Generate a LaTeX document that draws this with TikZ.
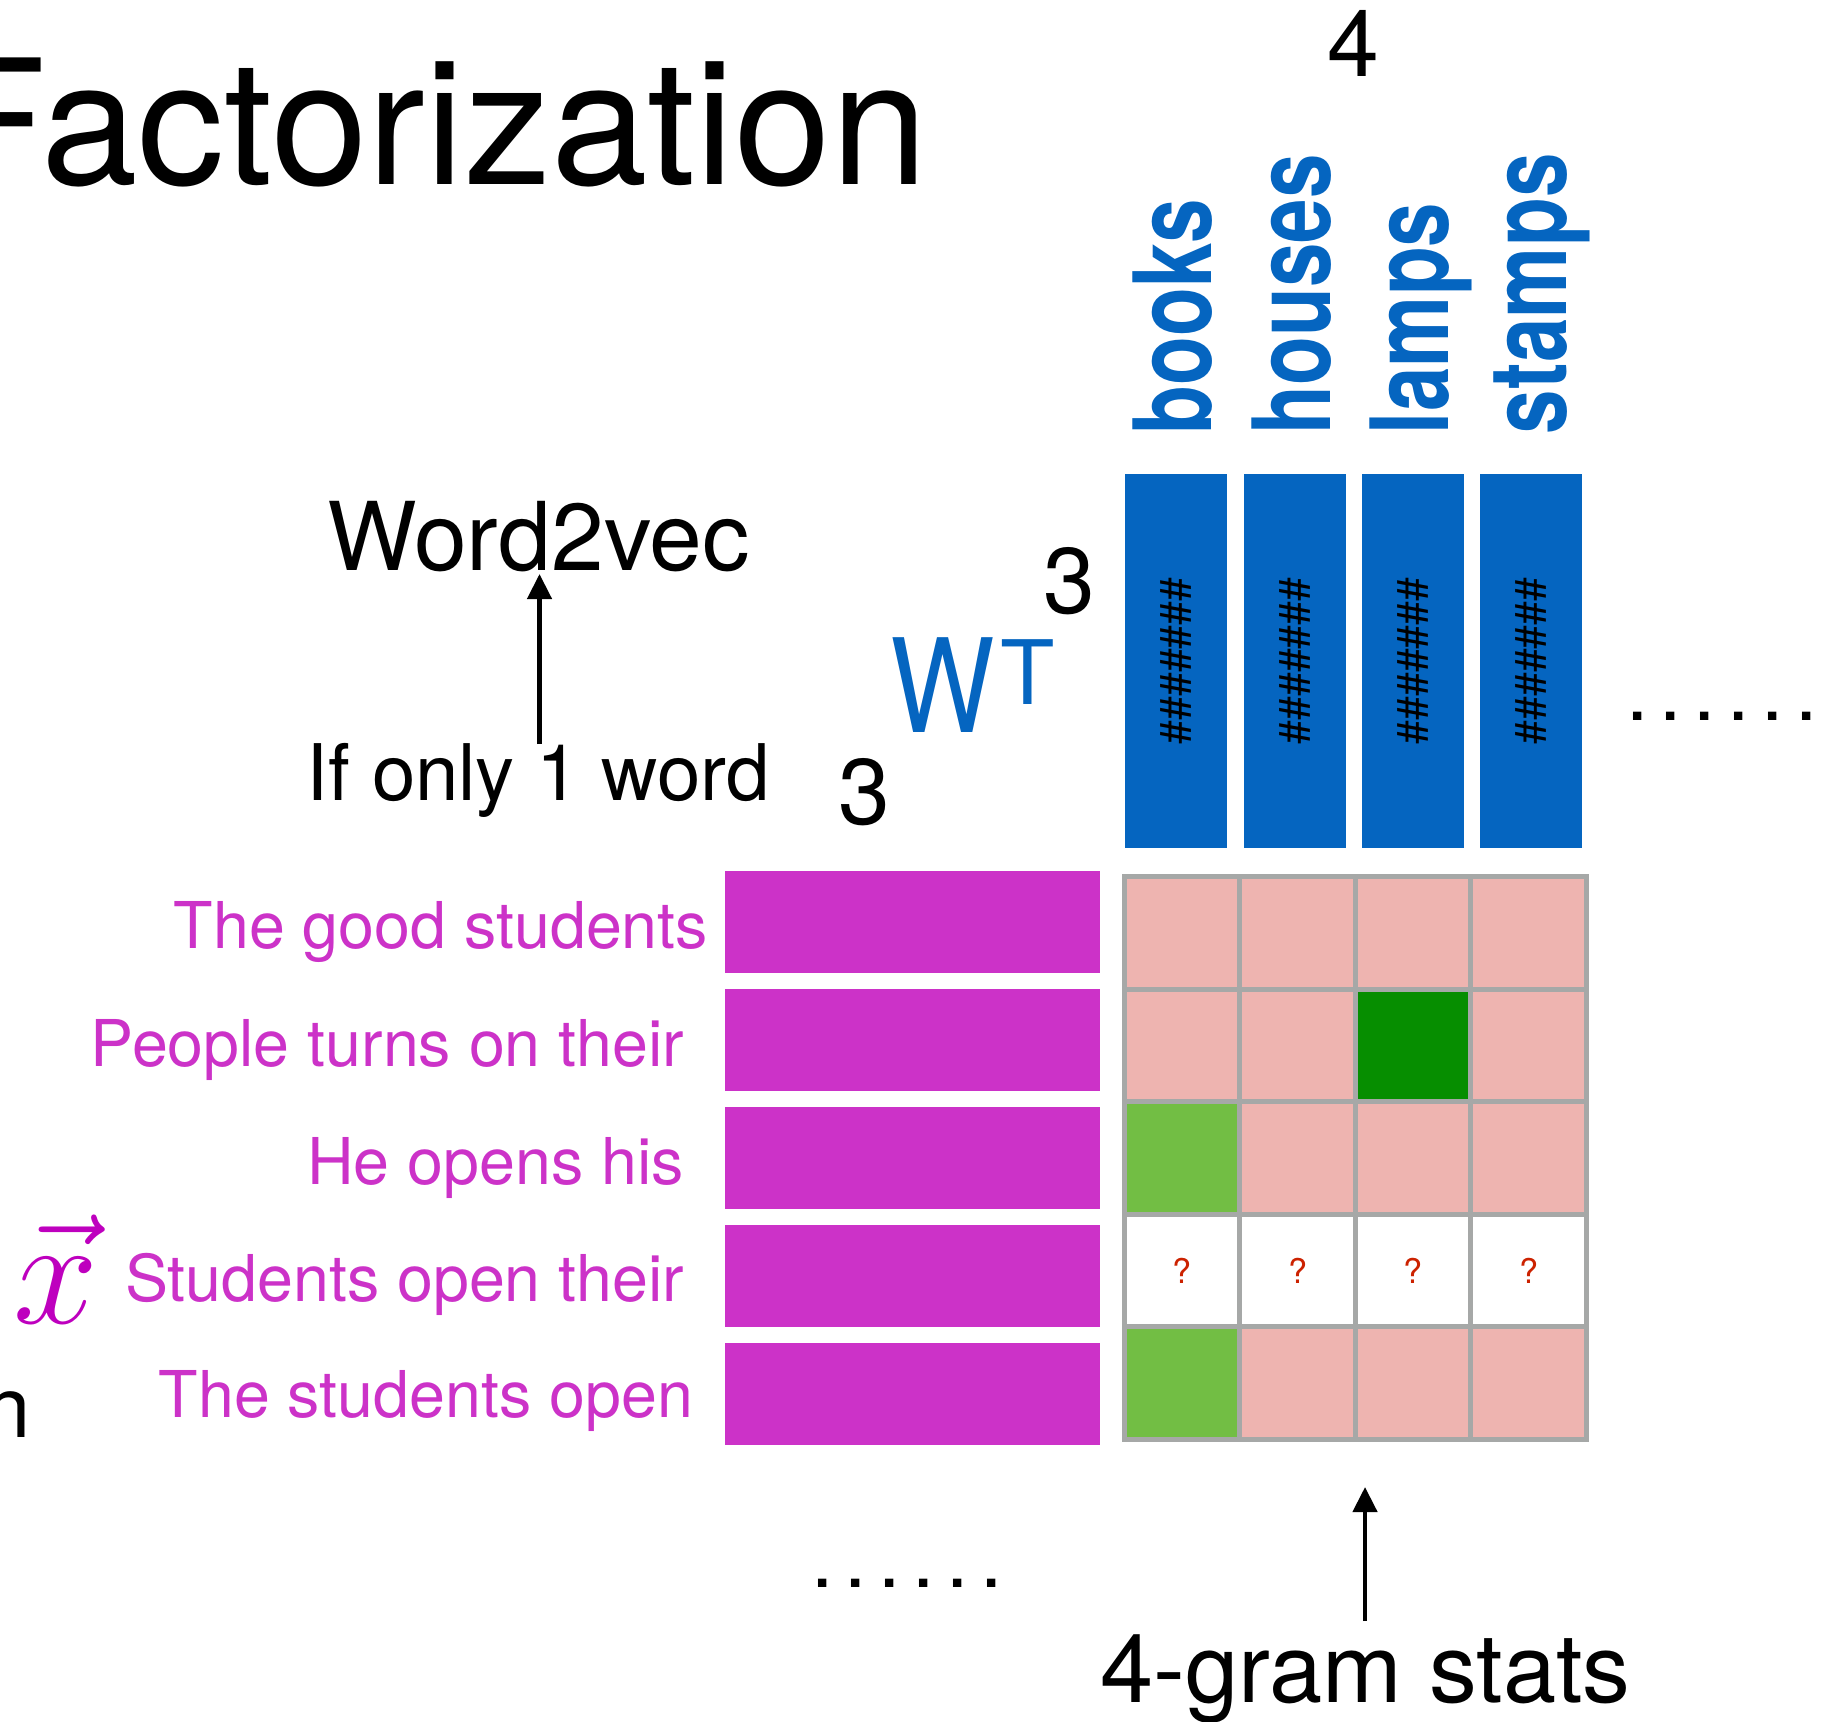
\documentclass[tikz,border=0pt]{standalone}
\usepackage{graphicx}
\usepackage{fontspec}
\setmainfont{TeX Gyre Heros}
\usetikzlibrary{arrows.meta}

\definecolor{cBlue}{RGB}{5,101,192}
\definecolor{cMag}{RGB}{204,50,200}
\definecolor{cVec}{RGB}{190,0,190}
\definecolor{cPink}{RGB}{238,180,176}
\definecolor{cDGreen}{RGB}{6,142,0}
\definecolor{cLGreen}{RGB}{114,190,68}
\definecolor{cGrid}{RGB}{166,168,167}
\definecolor{cRed}{RGB}{204,34,0}

\newcommand{\setfs}[1]{\fontsize{#1}{#1}\selectfont}
\newcommand{\dotrow}{.\kern3.3pt.\kern3.3pt.\kern3.3pt.\kern3.3pt.\kern3.3pt.}
\newcommand{\hashes}{\#\#\#\#\#\#\#}

\begin{document}
\begin{tikzpicture}[x=0.01cm, y=-0.01cm,
  txt/.style={inner sep=0pt, outer sep=0pt},
  bluebar/.style={rotate=90, fill=cBlue, minimum width=3.74cm, minimum height=1.02cm,
    inner sep=0pt, outer sep=0pt, font=\setfs{12.2}},
  magbar/.style={fill=cMag, minimum width=3.75cm, minimum height=1.02cm,
    inner sep=0pt, outer sep=0pt},
  cell/.style={draw=cGrid, line width=0.05cm, minimum width=1.155cm,
    minimum height=1.126cm, inner sep=0pt, outer sep=0pt},
  sent/.style={txt, anchor=base east, text=cMag, font=\setfs{18.35}},
  vocab/.style={txt, rotate=90, anchor=base west, text=cBlue, font=\setfs{30.7}\bfseries},
  dimlbl/.style={txt, anchor=base, font=\setfs{26.5}},
  arr/.style={line width=0.045cm, -{Triangle[length=0.25cm, width=0.24cm]}},
  qmark/.style={txt, text=cRed, font=\setfs{9.7}},
  dotlbl/.style={txt, anchor=base, font=\setfs{22.8}}
]
\useasboundingbox (0,0) rectangle (1831,1721);

% title
\node[txt, anchor=base west, font=\setfs{49.4}] (title) at (-59,184.5) {Factorization};

% vocabulary size and words
\node[dimlbl] (dimfour) at (1353,76) {4};
\node[vocab] (wbooks)  at (1211,434) {\scalebox{0.74}[1]{books}};
\node[vocab] (whouses) at (1330,434) {\scalebox{0.74}[1]{houses}};
\node[vocab] (wlamps)  at (1448,434) {\scalebox{0.74}[1]{lamps}};
\node[vocab] (wstamps) at (1566,434) {\scalebox{0.74}[1]{stamps}};

% output embedding columns W^T
\node[bluebar] (b1) at (1176,661) {\hashes};
\node[bluebar] (b2) at (1295,661) {\hashes};
\node[bluebar] (b3) at (1413,661) {\hashes};
\node[bluebar] (b4) at (1531,661) {\hashes};
\node[dotlbl] (rdots) at (1722,720) {\dotrow};

\node[dimlbl] (dimtop) at (1069,613) {3};
\node[txt, anchor=base west, text=cBlue, font=\setfs{37}] (wmat) at (890,732) {\scalebox{0.85}[1]{W}};
\node[txt, anchor=base west, text=cBlue, font=\setfs{25.3}] (wtr) at (1000,704) {T};
\node[dimlbl] (dimleft) at (864,824) {3};

% word2vec remark
\node[txt, anchor=base, font=\setfs{27}] (w2v) at (538.5,570) {Word2vec};
\node[txt, anchor=base, font=\setfs{22.2}] (onlyone) at (538.5,800) {If only 1 word};
\coordinate (a1bot) at (539.5,744);
\coordinate (a1top) at (539.5,574);
\draw[arr] (a1bot) -- (a1top);

% context rows
\node[magbar] (m1) at (912.5,922) {};
\node[magbar] (m2) at (912.5,1040) {};
\node[magbar] (m3) at (912.5,1158) {};
\node[magbar] (m4) at (912.5,1276) {};
\node[magbar] (m5) at (912.5,1394) {};
\node[sent] (s1) at (708,948) {The good students};
\node[sent] (s2) at (684,1066) {People turns on their};
\node[sent] (s3) at (684,1184) {He opens his};
\node[sent] (s4) at (684,1301) {Students open their};
\node[sent] (s5) at (693,1417) {The students open};
\node[txt, anchor=base west, text=cVec] (xvec) at (14,1323) {\scalebox{1.74}{\Huge$\vec{x}$}};
\node[txt, anchor=base east, font=\setfs{24.2}] (trail) at (31,1437) {n};
\node[dotlbl] (bdots) at (907,1587) {\dotrow};

% 4-gram statistics table
\foreach \r/\fa/\fb/\fc/\fd in {1/cPink/cPink/cPink/cPink, 2/cPink/cPink/cDGreen/cPink,
    3/cLGreen/cPink/cPink/cPink, 4/white/white/white/white, 5/cLGreen/cPink/cPink/cPink} {
  \node[cell, fill=\fa] (g\r1) at (1182.25, {932.8+(\r-1)*112.6}) {};
  \node[cell, fill=\fb] (g\r2) at (1297.75, {932.8+(\r-1)*112.6}) {};
  \node[cell, fill=\fc] (g\r3) at (1413.25, {932.8+(\r-1)*112.6}) {};
  \node[cell, fill=\fd] (g\r4) at (1528.75, {932.8+(\r-1)*112.6}) {};
}
\node[qmark] (q1) at (g41) {?};
\node[qmark] (q2) at (g42) {?};
\node[qmark] (q3) at (g43) {?};
\node[qmark] (q4) at (g44) {?};

\node[txt, anchor=base west, font=\setfs{27.2}] (stats) at (1100,1702) {4-gram stats};
\coordinate (a2bot) at (1365,1621);
\coordinate (a2top) at (1365,1487);
\draw[arr] (a2bot) -- (a2top);
\end{tikzpicture}
\end{document}
